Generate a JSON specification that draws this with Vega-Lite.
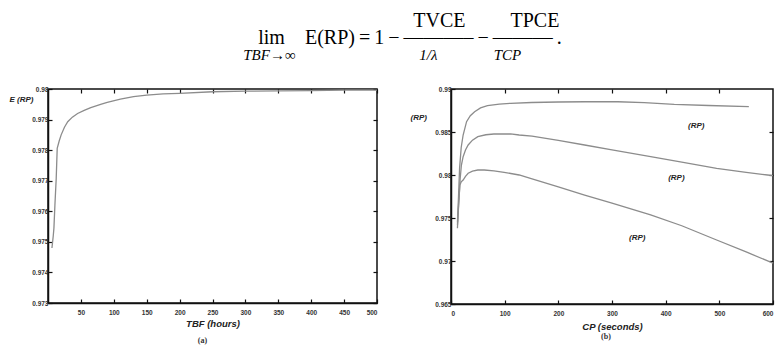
{
  "$schema": "https://vega.github.io/schema/vega-lite/v6.json",
  "padding": {"left": 8, "top": 11, "right": 0, "bottom": 0},
  "background": "white",
  "title": {
    "text": [
      "\u200b\u00a0\u00a0\u00a0\u00a0\u00a0\u00a0\u00a0\u00a0\u00a0\u00a0\u00a0\u00a0\u00a0\u00a0\u00a0\u00a0\u00a0\u00a0\u00a0\u00a0\u00a0\u00a0\u00a0\u00a0\u00a0\u00a0\u00a0\u00a0\u00a0\u00a0\u00a0\u00a0\u00a0\u00a0TVCE\u00a0\u00a0\u00a0\u00a0\u00a0\u00a0\u00a0\u00a0\u00a0TPCE",
      "\u200b\u00a0\u00a0\u00a0lim\u00a0\u00a0\u00a0\u00a0E(RP)\u2009=\u20091\u2009\u2212\u2009\u2014\u2014\u2014\u2013\u2009\u2212\u2009\u2014\u2014\u2014\u2009."
    ],
    "subtitle": "TBF\u2192\u221e\u00a0\u00a0\u00a0\u00a0\u00a0\u00a0\u00a0\u00a0\u00a0\u00a0\u00a0\u00a0\u00a0\u00a0\u00a0\u00a0\u00a0\u00a0\u00a0\u00a0\u00a0\u00a0\u00a0\u00a0\u00a0\u00a0\u00a0\u00a0\u00a0\u00a0\u00a0\u00a0\u00a01/\u03bb\u00a0\u00a0\u00a0\u00a0\u00a0\u00a0\u00a0\u00a0\u00a0\u00a0\u00a0\u00a0\u00a0\u00a0\u00a0TCP",
    "anchor": "start",
    "align": "left",
    "dx": 235,
    "font": "Liberation Serif",
    "fontSize": 20,
    "fontWeight": "normal",
    "lineHeight": 17,
    "color": "black",
    "subtitleFont": "Liberation Serif",
    "subtitleFontSize": 15,
    "subtitleFontStyle": "italic",
    "subtitleColor": "black",
    "subtitlePadding": 0,
    "offset": 22
  },
  "datasets": {
    "a": [
      {"tbf": 6, "e": 0.9748}, {"tbf": 8, "e": 0.9752}, {"tbf": 9, "e": 0.97545},
      {"tbf": 10.5, "e": 0.9762}, {"tbf": 12.5, "e": 0.97708}, {"tbf": 14, "e": 0.97806},
      {"tbf": 17, "e": 0.9783}, {"tbf": 20, "e": 0.9785}, {"tbf": 25, "e": 0.97875},
      {"tbf": 30, "e": 0.97893}, {"tbf": 37, "e": 0.97908}, {"tbf": 45, "e": 0.9792},
      {"tbf": 55, "e": 0.9793}, {"tbf": 65, "e": 0.97939}, {"tbf": 80, "e": 0.9795},
      {"tbf": 90, "e": 0.97956}, {"tbf": 110, "e": 0.97967}, {"tbf": 130, "e": 0.97975},
      {"tbf": 150, "e": 0.9798}, {"tbf": 175, "e": 0.97984}, {"tbf": 200, "e": 0.97986},
      {"tbf": 250, "e": 0.97991}, {"tbf": 300, "e": 0.97993}, {"tbf": 350, "e": 0.97994},
      {"tbf": 400, "e": 0.97995}, {"tbf": 450, "e": 0.97996}, {"tbf": 500, "e": 0.97996}
    ],
    "b": [
      {"s": "top", "cp": 12, "v": 0.9745}, {"s": "top", "cp": 14, "v": 0.9775}, {"s": "top", "cp": 16, "v": 0.9808},
      {"s": "top", "cp": 19, "v": 0.9832}, {"s": "top", "cp": 22.6, "v": 0.98465}, {"s": "top", "cp": 29, "v": 0.9862},
      {"s": "top", "cp": 36, "v": 0.9869}, {"s": "top", "cp": 44, "v": 0.98736}, {"s": "top", "cp": 55, "v": 0.9878},
      {"s": "top", "cp": 68, "v": 0.98806}, {"s": "top", "cp": 90, "v": 0.98825}, {"s": "top", "cp": 111, "v": 0.98834},
      {"s": "top", "cp": 150, "v": 0.98843}, {"s": "top", "cp": 200, "v": 0.98849}, {"s": "top", "cp": 250, "v": 0.98852},
      {"s": "top", "cp": 311, "v": 0.98852}, {"s": "top", "cp": 360, "v": 0.98842}, {"s": "top", "cp": 416, "v": 0.98822},
      {"s": "top", "cp": 480, "v": 0.98808}, {"s": "top", "cp": 555, "v": 0.98794},
      {"s": "mid", "cp": 12, "v": 0.9742}, {"s": "mid", "cp": 15, "v": 0.9772}, {"s": "mid", "cp": 17, "v": 0.9795},
      {"s": "mid", "cp": 19.4, "v": 0.98116}, {"s": "mid", "cp": 22.6, "v": 0.98213}, {"s": "mid", "cp": 27, "v": 0.9829},
      {"s": "mid", "cp": 32, "v": 0.98349}, {"s": "mid", "cp": 40, "v": 0.98405}, {"s": "mid", "cp": 50, "v": 0.98446},
      {"s": "mid", "cp": 65, "v": 0.98468}, {"s": "mid", "cp": 80, "v": 0.98477}, {"s": "mid", "cp": 111, "v": 0.98477},
      {"s": "mid", "cp": 127, "v": 0.98465}, {"s": "mid", "cp": 151, "v": 0.98453}, {"s": "mid", "cp": 200, "v": 0.98403},
      {"s": "mid", "cp": 249, "v": 0.98349}, {"s": "mid", "cp": 300, "v": 0.98292}, {"s": "mid", "cp": 372, "v": 0.98213},
      {"s": "mid", "cp": 430, "v": 0.9815}, {"s": "mid", "cp": 495, "v": 0.98078}, {"s": "mid", "cp": 550, "v": 0.9803},
      {"s": "mid", "cp": 590, "v": 0.98}, {"s": "mid", "cp": 600, "v": 0.97992},
      {"s": "bot", "cp": 12, "v": 0.9738}, {"s": "bot", "cp": 14, "v": 0.9765}, {"s": "bot", "cp": 16.5, "v": 0.97884},
      {"s": "bot", "cp": 19, "v": 0.9792}, {"s": "bot", "cp": 22.6, "v": 0.97942}, {"s": "bot", "cp": 27, "v": 0.97985},
      {"s": "bot", "cp": 32, "v": 0.9802}, {"s": "bot", "cp": 40, "v": 0.98045}, {"s": "bot", "cp": 50, "v": 0.98058},
      {"s": "bot", "cp": 62, "v": 0.98058}, {"s": "bot", "cp": 80, "v": 0.98048}, {"s": "bot", "cp": 99, "v": 0.98031},
      {"s": "bot", "cp": 127, "v": 0.98}, {"s": "bot", "cp": 148, "v": 0.9796}, {"s": "bot", "cp": 200, "v": 0.97862},
      {"s": "bot", "cp": 249, "v": 0.97767}, {"s": "bot", "cp": 300, "v": 0.97672}, {"s": "bot", "cp": 372, "v": 0.97535},
      {"s": "bot", "cp": 430, "v": 0.9741}, {"s": "bot", "cp": 495, "v": 0.97244}, {"s": "bot", "cp": 550, "v": 0.97105},
      {"s": "bot", "cp": 600, "v": 0.96975}
    ],
    "lab": [
      {"cp": 457, "v": 0.9857, "t": "(RP)"},
      {"cp": 420, "v": 0.97963, "t": "(RP)"},
      {"cp": 347, "v": 0.97272, "t": "(RP)"}
    ]
  },
  "hconcat": [
    {
      "width": 329,
      "height": 214,
      "title": {"text": "(a)", "orient": "bottom", "font": "Liberation Serif", "fontSize": 8, "fontWeight": "bold", "color": "#333", "offset": 9, "dx": -10},
      "layer": [
        {
          "data": {"name": "a"},
          "mark": {"type": "line", "color": "#8c8c8c", "strokeWidth": 1.3},
          "encoding": {
            "x": {"field": "tbf", "type": "quantitative", "scale": {"domain": [0, 500], "nice": false},
              "axis": {"values": [50, 100, 150, 200, 250, 300, 350, 400, 450, 500], "title": "TBF (hours)", "labelPadding": 10, "titlePadding": 3}},
            "y": {"field": "e", "type": "quantitative", "scale": {"domain": [0.973, 0.98], "nice": false, "zero": false},
              "axis": {"values": [0.973, 0.974, 0.975, 0.976, 0.977, 0.978, 0.979, 0.98], "format": ".3~f", "labelPadding": 4,
                "title": "E (RP)", "titleAngle": 0, "titleAlign": "left", "titleBaseline": "middle", "titleX": -39, "titleY": 10, "titleFontSize": 8}}
          }
        },
        {
          "data": {"name": "a"},
          "mark": {"type": "line", "opacity": 0},
          "encoding": {
            "x": {"field": "tbf", "type": "quantitative", "axis": {"orient": "top", "labels": false, "title": null, "domain": false, "values": [50, 100, 150, 200, 250, 300, 350, 400, 450, 500]}},
            "y": {"field": "e", "type": "quantitative", "axis": {"orient": "right", "labels": false, "title": null, "domain": false, "values": [0.973, 0.974, 0.975, 0.976, 0.977, 0.978, 0.979, 0.98]}}
          }
        }
      ],
      "resolve": {"axis": {"x": "independent", "y": "independent"}}
    },
    {
      "width": 322,
      "height": 215,
      "title": {"text": "(b)", "orient": "bottom", "font": "Liberation Serif", "fontSize": 8, "fontWeight": "bold", "color": "#333", "offset": 2, "dx": -6},
      "layer": [
        {
          "data": {"name": "b"},
          "mark": {"type": "line", "color": "#8c8c8c", "strokeWidth": 1.3},
          "encoding": {
            "detail": {"field": "s"},
            "x": {"field": "cp", "type": "quantitative", "scale": {"domain": [0, 600], "nice": false},
              "axis": {"values": [0, 100, 200, 300, 400, 500, 600], "title": "CP (seconds)", "labelPadding": 10, "titlePadding": 5, "labelFlush": true}},
            "y": {"field": "v", "type": "quantitative", "scale": {"domain": [0.965, 0.99], "nice": false, "zero": false},
              "axis": {"values": [0.965, 0.97, 0.975, 0.98, 0.985, 0.99], "format": ".3~f", "labelPadding": 4,
                "title": "(RP)", "titleAngle": 0, "titleAlign": "left", "titleBaseline": "middle", "titleX": -41, "titleY": 28, "titleFontSize": 8}}
          }
        },
        {
          "data": {"name": "b"},
          "mark": {"type": "line", "opacity": 0},
          "encoding": {
            "detail": {"field": "s"},
            "x": {"field": "cp", "type": "quantitative", "axis": {"orient": "top", "labels": false, "title": null, "domain": false, "values": [100, 200, 300, 400, 500]}},
            "y": {"field": "v", "type": "quantitative", "axis": {"orient": "right", "labels": false, "title": null, "domain": false, "values": [0.97, 0.975, 0.98, 0.985]}}
          }
        },
        {
          "data": {"name": "lab"},
          "mark": {"type": "text", "font": "Liberation Sans", "fontSize": 8, "fontWeight": "bold", "fontStyle": "italic", "color": "#222"},
          "encoding": {
            "x": {"field": "cp", "type": "quantitative", "axis": null},
            "y": {"field": "v", "type": "quantitative", "axis": null},
            "text": {"field": "t"}
          }
        }
      ],
      "resolve": {"axis": {"x": "independent", "y": "independent"}}
    }
  ],
  "spacing": 28,
  "config": {
    "view": {"stroke": "#111", "strokeWidth": 1.5},
    "axis": {
      "grid": false, "domainColor": "#111", "domainWidth": 1.5,
      "tickColor": "#111", "tickWidth": 1.2, "tickSize": -4,
      "labelFont": "Liberation Sans", "labelFontSize": 6.5, "labelFontWeight": "bold", "labelColor": "#333",
      "titleFont": "Liberation Sans", "titleFontWeight": "bold", "titleFontStyle": "italic", "titleFontSize": 9.5, "titleColor": "#222"
    }
  }
}
